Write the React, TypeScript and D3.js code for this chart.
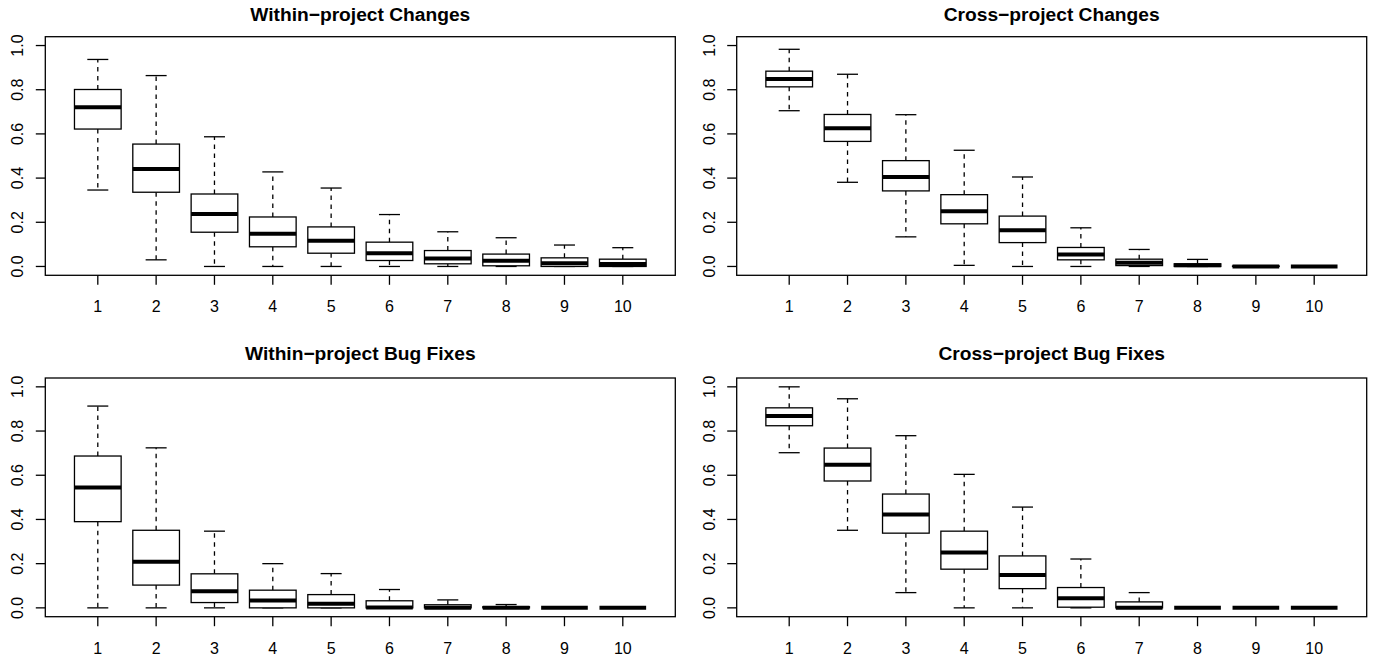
import React from "react";
import * as d3 from "d3";

// Each entry: [lower whisker, Q1, median, Q3, upper whisker]
const categories = ["1", "2", "3", "4", "5", "6", "7", "8", "9", "10"];
const yTicks = [0, 0.2, 0.4, 0.6, 0.8, 1.0];
const yTickLabels = ["0.0", "0.2", "0.4", "0.6", "0.8", "1.0"];

const withinChanges: number[][] = [
  [0.346, 0.622, 0.721, 0.801, 0.937],
  [0.030, 0.336, 0.441, 0.554, 0.864],
  [0.0, 0.155, 0.238, 0.328, 0.587],
  [0.0, 0.089, 0.148, 0.224, 0.428],
  [0.0, 0.060, 0.116, 0.179, 0.355],
  [0.0, 0.027, 0.060, 0.110, 0.235],
  [0.0, 0.012, 0.036, 0.072, 0.157],
  [0.0, 0.003, 0.026, 0.056, 0.130],
  [0.0, 0.0, 0.015, 0.039, 0.097],
  [0.0, 0.0, 0.011, 0.033, 0.085],
];

const crossChanges: number[][] = [
  [0.705, 0.813, 0.849, 0.884, 0.983],
  [0.381, 0.566, 0.626, 0.688, 0.870],
  [0.134, 0.342, 0.405, 0.479, 0.687],
  [0.005, 0.193, 0.250, 0.325, 0.526],
  [0.0, 0.108, 0.164, 0.228, 0.405],
  [0.0, 0.030, 0.054, 0.086, 0.175],
  [0.0, 0.004, 0.017, 0.033, 0.077],
  [0.0, 0.0, 0.005, 0.012, 0.032],
  [0.0, 0.0, 0.0, 0.002, 0.003],
  [0.0, 0.0, 0.0, 0.0, 0.0],
];

const withinBugFixes: number[][] = [
  [0.0, 0.390, 0.545, 0.687, 0.913],
  [0.0, 0.103, 0.209, 0.351, 0.724],
  [0.0, 0.024, 0.075, 0.154, 0.347],
  [0.0, 0.0, 0.033, 0.080, 0.200],
  [0.0, 0.0, 0.019, 0.060, 0.155],
  [0.0, 0.0, 0.002, 0.032, 0.083],
  [0.0, 0.0, 0.0, 0.014, 0.036],
  [0.0, 0.0, 0.0, 0.005, 0.015],
  [0.0, 0.0, 0.0, 0.0, 0.0],
  [0.0, 0.0, 0.0, 0.0, 0.0],
];

const crossBugFixes: number[][] = [
  [0.702, 0.824, 0.868, 0.905, 1.0],
  [0.351, 0.574, 0.648, 0.723, 0.946],
  [0.069, 0.338, 0.422, 0.515, 0.779],
  [0.0, 0.175, 0.250, 0.347, 0.604],
  [0.0, 0.087, 0.149, 0.235, 0.456],
  [0.0, 0.003, 0.044, 0.092, 0.221],
  [0.0, 0.0, 0.0, 0.027, 0.069],
  [0.0, 0.0, 0.0, 0.0, 0.0],
  [0.0, 0.0, 0.0, 0.0, 0.0],
  [0.0, 0.0, 0.0, 0.0, 0.0],
];

const panelTitles = [
  "Within\u2212project Changes",
  "Cross\u2212project Changes",
  "Within\u2212project Bug Fixes",
  "Cross\u2212project Bug Fixes",
];
const panelData = [withinChanges, crossChanges, withinBugFixes, crossBugFixes];

const W = 1380;
const H = 662;
const FONT = "'Liberation Sans', Arial, Helvetica, sans-serif";

const cols = [
  { left: 45.3, right: 675.3 },
  { left: 736.7, right: 1366.7 },
];
const rows = [
  { top: 36.7, bottom: 275.3, titleY: 20.5 },
  { top: 378, bottom: 616.7, titleY: 359.5 },
];

function Panel({ title, stats, col, row }: { title: string; stats: number[][]; col: any; row: any }) {
  const x = d3.scaleLinear().domain([0.1, categories.length + 0.9]).range([col.left, col.right]);
  const y = d3.scaleLinear().domain([-0.04, 1.04]).range([row.bottom, row.top]);
  const unit = x(1) - x(0);
  const boxW = 0.8 * unit;
  const stapleW = 0.36 * unit;
  const lw = 1.3;
  return (
    <g>
      <text
        x={(col.left + col.right) / 2}
        y={row.titleY}
        textAnchor="middle"
        fontFamily={FONT}
        fontWeight="bold"
        fontSize={19.2}
        fill="#000"
      >
        {title}
      </text>
      {stats.map((s, i) => {
        const cx = x(i + 1);
        const [lo, q1, med, q3, hi] = s;
        return (
          <g key={i}>
            <line x1={cx} x2={cx} y1={y(q3)} y2={y(hi)} stroke="#000" strokeWidth={lw} strokeDasharray="4.5,4.5" />
            <line x1={cx} x2={cx} y1={y(q1)} y2={y(lo)} stroke="#000" strokeWidth={lw} strokeDasharray="4.5,4.5" />
            <line x1={cx - stapleW / 2} x2={cx + stapleW / 2} y1={y(hi)} y2={y(hi)} stroke="#000" strokeWidth={lw} />
            <line x1={cx - stapleW / 2} x2={cx + stapleW / 2} y1={y(lo)} y2={y(lo)} stroke="#000" strokeWidth={lw} />
            <rect
              x={cx - boxW / 2}
              y={y(q3)}
              width={boxW}
              height={Math.max(0, y(q1) - y(q3))}
              fill="#fff"
              stroke="#000"
              strokeWidth={lw}
            />
            <line x1={cx - boxW / 2} x2={cx + boxW / 2} y1={y(med)} y2={y(med)} stroke="#000" strokeWidth={4} />
          </g>
        );
      })}
      <rect
        x={col.left}
        y={row.top}
        width={col.right - col.left}
        height={row.bottom - row.top}
        fill="none"
        stroke="#000"
        strokeWidth={lw}
      />
      {yTicks.map((t, i) => (
        <g key={"y" + i}>
          <line x1={col.left - 9.5} x2={col.left} y1={y(t)} y2={y(t)} stroke="#000" strokeWidth={lw} />
          <text
            transform={`translate(${col.left - 22},${y(t)}) rotate(-90)`}
            textAnchor="middle"
            fontFamily={FONT}
            fontSize={16}
            fill="#000"
          >
            {yTickLabels[i]}
          </text>
        </g>
      ))}
      {categories.map((c, i) => (
        <g key={"x" + i}>
          <line x1={x(i + 1)} x2={x(i + 1)} y1={row.bottom} y2={row.bottom + 9.5} stroke="#000" strokeWidth={lw} />
          <text x={x(i + 1)} y={row.bottom + 37} textAnchor="middle" fontFamily={FONT} fontSize={16} fill="#000">
            {c}
          </text>
        </g>
      ))}
    </g>
  );
}

export default function App() {
  return (
    <svg
      width={W}
      height={H}
      viewBox={`0 0 ${W} ${H}`}
      style={{ position: "absolute", left: 0, top: 0, background: "#fff" }}
    >
      <rect x={0} y={0} width={W} height={H} fill="#fff" />
      {panelTitles.map((t, i) => (
        <Panel key={i} title={t} stats={panelData[i]} col={cols[i % 2]} row={rows[Math.floor(i / 2)]} />
      ))}
    </svg>
  );
}
